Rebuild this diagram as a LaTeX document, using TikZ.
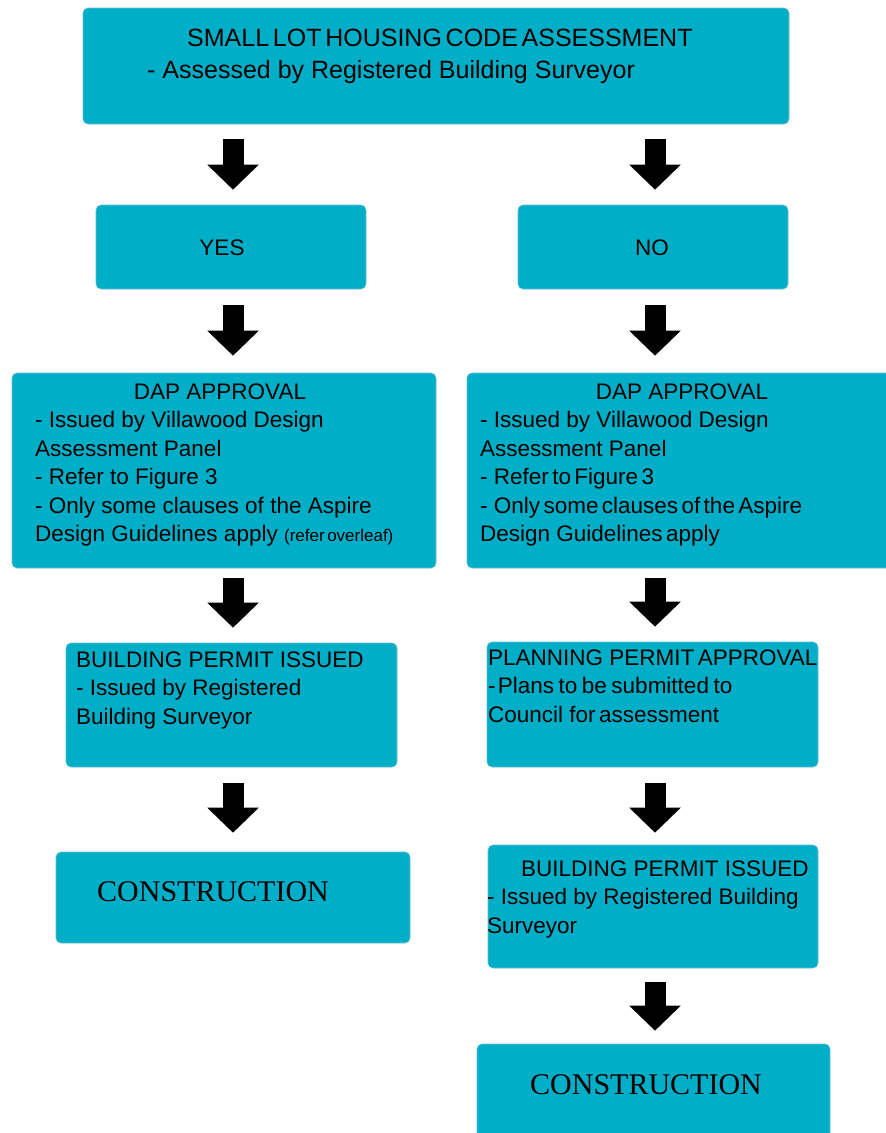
\documentclass[tikz,border=0pt]{standalone}
\usepackage{fontspec}
\setmainfont{Liberation Sans}
\newfontfamily\conserif{Liberation Serif}
\usetikzlibrary{arrows.meta}
\definecolor{boxteal}{RGB}{0,174,200}
\tikzset{
  flowbox/.style={fill=boxteal, draw=boxteal!85!black!60, line width=0.6pt, rounded corners=5pt, inner sep=0pt},
  txt/.style={anchor=base west, inner sep=0pt, font=\fontsize{22.5}{28.5}\selectfont},
  txtc/.style={anchor=base, inner sep=0pt, font=\fontsize{22.5}{28.5}\selectfont},
  bigtxt/.style={anchor=base west, inner sep=0pt, font=\fontsize{25}{31}\selectfont},
  contxt/.style={anchor=base west, inner sep=0pt, font=\conserif\fontsize{30}{34}\selectfont},
  blockarrow/.style={line width=21pt, -{Triangle[length=25pt, width=50pt]}},
}
\newcommand{\tsp}{\hspace{0.15em}}
\begin{document}
\begin{tikzpicture}[x=1pt, y=-1pt]
\useasboundingbox (0,0) rectangle (886,1133);
% boxes
\node[flowbox, minimum width=706pt, minimum height=116pt] (top) at (436,66) {};
\node[flowbox, minimum width=270pt, minimum height=84pt] (yes) at (231,247) {};
\node[flowbox, minimum width=270pt, minimum height=84pt] (no) at (653,247) {};
\node[flowbox, minimum width=424pt, minimum height=195pt] (dapL) at (224,470.5) {};
\node[flowbox, minimum width=424pt, minimum height=195pt] (dapR) at (679,470.5) {};
\node[flowbox, minimum width=331pt, minimum height=124pt] (bpL) at (231.5,705) {};
\node[flowbox, minimum width=331pt, minimum height=125pt] (ppR) at (652.5,704.5) {};
\node[flowbox, minimum width=354pt, minimum height=91pt] (conL) at (233,897.5) {};
\node[flowbox, minimum width=330pt, minimum height=123pt] (bpR) at (653,906.5) {};
\node[flowbox, minimum width=353pt, minimum height=100pt] (conR) at (653.5,1094) {};
% column coordinates
\coordinate (colL) at (233,0);
\coordinate (colR) at (655,0);
% texts
\node[bigtxt] (t1) at (187,46.7) {SMALL\tsp LOT\tsp HOUSING\tsp CODE\tsp ASSESSMENT};
\node[bigtxt] (t2) at (147,78.3) {- Assessed by Registered Building Surveyor};
\node[txtc] (tyes) at (222,255) {YES};
\node[txtc] (tno) at (652,255) {NO};
\node[txtc] (dl0) at (220,399) {DAP APPROVAL};
\node[txt] (dl1) at (35,427.5) {- Issued by Villawood Design};
\node[txt] (dl2) at (35,456) {Assessment Panel};
\node[txt] (dl3) at (35,484.5) {- Refer to Figure 3};
\node[txt] (dl4) at (35,513) {- Only some clauses of the Aspire};
\node[txt] (dl5) at (35,541.5) {Design Guidelines apply {\fontsize{17}{19}\selectfont(refer\tsp overleaf)}};
\node[txtc] (dr0) at (682,399) {DAP APPROVAL};
\node[txt] (dr1) at (480,427.5) {- Issued by Villawood Design};
\node[txt] (dr2) at (480,456) {Assessment Panel};
\node[txt] (dr3) at (480,484.5) {- Refer\tsp to\tsp Figure\tsp 3};
\node[txt] (dr4) at (480,513) {- Only\tsp some\tsp clauses\tsp of\tsp the\tsp Aspire};
\node[txt] (dr5) at (480,541.5) {Design Guidelines\tsp apply};
\node[txt] (bl0) at (76,667) {BUILDING PERMIT ISSUED};
\node[txt] (bl1) at (76,695.5) {- Issued by Registered};
\node[txt] (bl2) at (76,724) {Building Surveyor};
\node[txt] (pr0) at (488,665) {PLANNING PERMIT\tsp APPROVAL};
\node[txt] (pr1) at (488,693.5) {-\hspace{0.1em}Plans\hspace{0.2em}to\hspace{0.2em}be\hspace{0.2em}submitted\hspace{0.2em}to};
\node[txt] (pr2) at (488,722) {Council for\tsp assessment};
\node[contxt] (cl) at (97,901) {CONSTRUCTION};
\node[txt] (br0) at (521,876) {BUILDING PERMIT ISSUED};
\node[txt] (br1) at (487,904.5) {- Issued by Registered Building};
\node[txt] (br2) at (487,933) {Surveyor};
\node[contxt] (cr) at (530,1094) {CONSTRUCTION};
% arrows
\draw[blockarrow] ([yshift=-15pt]top.south -| colL) -- ([yshift=15pt]yes.north -| colL);
\draw[blockarrow] ([yshift=-15pt]top.south -| colR) -- ([yshift=15pt]no.north -| colR);
\draw[blockarrow] ([yshift=-16pt]yes.south -| colL) -- ([yshift=17pt]dapL.north -| colL);
\draw[blockarrow] ([yshift=-16pt]no.south -| colR) -- ([yshift=17pt]dapR.north -| colR);
\draw[blockarrow] ([yshift=-10pt]dapL.south -| colL) -- ([yshift=15pt]bpL.north -| colL);
\draw[blockarrow] ([yshift=-10pt]dapR.south -| colR) -- ([yshift=15pt]ppR.north -| colR);
\draw[blockarrow] ([yshift=-16pt]bpL.south -| colL) -- ([yshift=19pt]conL.north -| colL);
\draw[blockarrow] ([yshift=-16pt]ppR.south -| colR) -- ([yshift=12pt]bpR.north -| colR);
\draw[blockarrow] ([yshift=-14pt]bpR.south -| colR) -- ([yshift=13pt]conR.north -| colR);
\end{tikzpicture}
\end{document}
